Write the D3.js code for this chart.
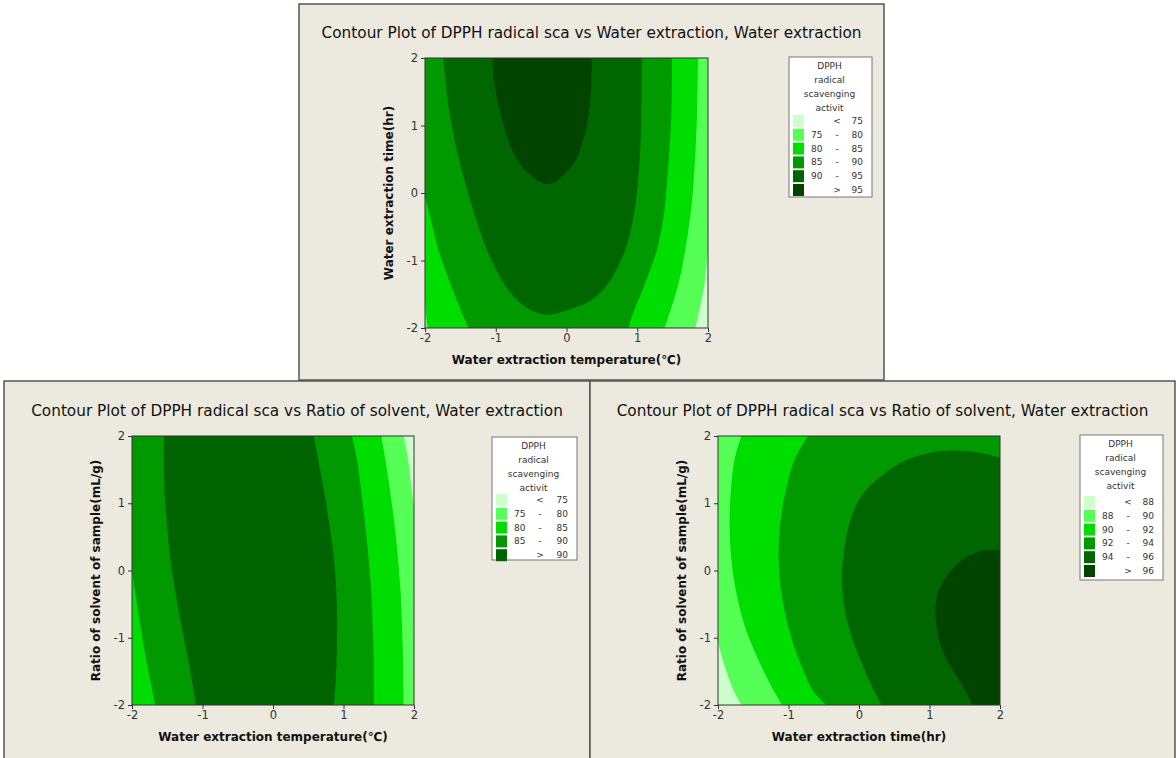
<!DOCTYPE html>
<html>
<head>
<meta charset="utf-8">
<script src="https://cdn.jsdelivr.net/npm/d3@7"></script>
<style>
    body { margin: 0; background: #fff; }
    svg { display: block; font-family: "DejaVu Sans", Verdana, sans-serif; }
    .panel-bg { fill: #ece9df; stroke: #555; stroke-width: 1.5; }
    .title { font-size: 15.3px; fill: #111; }
    .axis-label { font-size: 12px; font-weight: bold; fill: #111; }
    .tick text { font-size: 11.5px; fill: #333; font-family: "DejaVu Sans", sans-serif; }
    .tick line { stroke: #333; }
    .plot-frame { fill: none; stroke: #333; stroke-width: 1; }
    .legend-box { fill: #fff; stroke: #777; stroke-width: 1; }
    .legend text { font-size: 9px; fill: #333; }
</style>
</head>
<body>
<svg id="chart" width="1176" height="758"></svg>
<script>
// ---- data ----
const tickValues = [-2, -1, 0, 1, 2];
const legendTitle = ["DPPH", "radical", "scavenging", "activit"];

const topBreaks = [75, 80, 85, 90, 95];
const leftBreaks = [75, 80, 85, 90];
const rightBreaks = [88, 90, 92, 94, 96];

const sixColors = ["#ccffcc", "#55ff55", "#00dd00", "#009900", "#006600", "#004400"];
const fiveColors = ["#ccffcc", "#55ff55", "#00dd00", "#009900", "#006400"];

// top: temperature vs time, contour lines as [x, y]
const top75 = [[2, -0.84], [1.953, -1.333], [1.858, -1.827], [1.821, -2]];
const top80L = [[-2, -1.6], [-1.985, -1.8], [-1.96, -2]];
const top80R = [[1.387, -2], [1.443, -1.827], [1.585, -1.333], [1.679, -0.839], [1.75, -0.346], [1.797, 0.148], [1.844, 1.136], [1.859, 2]];
const top85L = [[-2, -0.05], [-1.929, -0.346], [-1.811, -0.839], [-1.646, -1.333], [-1.458, -1.827], [-1.387, -2]];
const top85R = [[0.877, -2], [0.925, -1.827], [1.113, -1.333], [1.278, -0.839], [1.373, -0.346], [1.42, 0.148], [1.481, 1.136], [1.491, 2]];
const top90 = [[-1.741, 2], [-1.708, 1.63], [-1.646, 1.136], [-1.552, 0.642], [-1.434, 0.148], [-1.292, -0.346], [-1.127, -0.839], [-0.891, -1.333], [-0.703, -1.58], [-0.514, -1.728], [-0.278, -1.802], [0.028, -1.728], [0.359, -1.58], [0.594, -1.333], [0.83, -0.839], [0.948, -0.346], [1.009, 0.148], [1.042, 0.642], [1.057, 1.136], [1.066, 2]];
const top95 = [[-1.047, 2], [-1.019, 1.63], [-0.925, 1.136], [-0.774, 0.642], [-0.632, 0.395], [-0.5, 0.26], [-0.38, 0.165], [-0.27, 0.13], [-0.16, 0.165], [-0.05, 0.26], [0.075, 0.395], [0.193, 0.642], [0.311, 1.136], [0.349, 1.63], [0.358, 2]];

// bottom left: temperature vs ratio
const left75 = [[1.853, 2], [1.915, 1.653], [1.972, 1.158], [2, 0.96]];
const left80 = [[1.853, -2], [1.844, -1.317], [1.83, -0.822], [1.811, -0.327], [1.773, 0.169], [1.726, 0.664], [1.664, 1.158], [1.593, 1.653], [1.537, 2]];
const left85L = [[-2, 0.02], [-1.953, -0.327], [-1.882, -0.822], [-1.801, -1.317], [-1.669, -2]];
const left85R = [[1.433, -2], [1.428, -1.317], [1.414, -0.822], [1.395, -0.327], [1.357, 0.169], [1.31, 0.664], [1.253, 1.158], [1.191, 1.653], [1.12, 2]];
const left90L = [[-1.551, 2], [-1.537, 1.158], [-1.504, 0.664], [-1.456, 0.169], [-1.385, -0.327], [-1.3, -0.822], [-1.206, -1.317], [-1.092, -2]];
const left90R = [[0.865, -2], [0.894, -1.564], [0.908, -1.069], [0.908, -0.574], [0.884, -0.079], [0.837, 0.416], [0.766, 0.911], [0.686, 1.406], [0.577, 2]];

// bottom right: time vs ratio
const right88 = [[-2, -1.069], [-1.905, -1.416], [-1.787, -1.762], [-1.669, -2]];
const right90 = [[-1.669, 2], [-1.764, 1.653], [-1.82, 1.158], [-1.835, 0.664], [-1.811, 0.169], [-1.74, -0.327], [-1.622, -0.822], [-1.433, -1.317], [-1.196, -1.812], [-1.092, -2]];
const right92 = [[-0.723, 2], [-0.913, 1.653], [-1.045, 1.158], [-1.121, 0.664], [-1.14, 0.169], [-1.102, -0.327], [-1.007, -0.822], [-0.856, -1.317], [-0.638, -1.812], [-0.463, -2]];
const right94 = [[2, 1.678], [1.641, 1.762], [1.168, 1.777], [0.695, 1.653], [0.317, 1.406], [0.033, 1.109], [-0.132, 0.713], [-0.227, 0.168], [-0.241, -0.178], [-0.203, -0.574], [-0.109, -0.97], [0.033, -1.366], [0.198, -1.762], [0.317, -2]];
const right96 = [[2, 0.307], [1.7, 0.28], [1.45, 0.15], [1.25, -0.08], [1.12, -0.327], [1.083, -0.574], [1.097, -0.822], [1.144, -1.069], [1.239, -1.317], [1.38, -1.564], [1.522, -1.812], [1.603, -2]];

// filled areas "above level i": list of curve pieces, single points are plot corners
const topRegions = [
    [top75, [[-2, -2]], [[-2, 2]], [[2, 2]]],
    [top80L, top80R, [[-2, 2]]],
    [top85L, top85R, [[-2, 2]]],
    [top90],
    [top95]
];
const leftRegions = [
    [[[-2, 2]], left75, [[2, -2]], [[-2, -2]]],
    [[[-2, -2]], left80, [[-2, 2]]],
    [left85L, left85R, [[-2, 2]]],
    [left90L, left90R]
];
const rightRegions = [
    [right88, [[2, -2]], [[2, 2]], [[-2, 2]]],
    [right90, [[2, -2]], [[2, 2]]],
    [right92, [[2, -2]], [[2, 2]]],
    [right94, [[2, -2]]],
    [right96, [[2, -2]]]
];

class ContourPanel {
    constructor(svg, cfg) {
        this.svg = svg;
        this.cfg = cfg;
        this.g = svg.append("g").attr("class", "panel");

        let [x0, y0, x1, y1] = cfg.plot;
        this.x = d3.scaleLinear().domain([-2, 2]).range([x0, x1]);
        this.y = d3.scaleLinear().domain([-2, 2]).range([y1, y0]);

        this.drawFrame();
        this.drawPlot();
        this.drawAxis();
        this.drawLegend();
    }

    drawFrame() {
        let b = this.cfg.box;
        this.g.append("rect")
            .attr("class", "panel-bg")
            .attr("x", b[0]).attr("y", b[1])
            .attr("width", b[2] - b[0]).attr("height", b[3] - b[1]);
        this.g.append("text")
            .attr("class", "title")
            .attr("x", (b[0] + b[2]) / 2)
            .attr("y", this.cfg.titleY)
            .attr("text-anchor", "middle")
            .text(this.cfg.title);
    }

    regionPath(pieces) {
        let x = this.x, y = this.y;
        let curve = d3.line().x(d => x(d[0])).y(d => y(d[1])).curve(d3.curveCatmullRom.alpha(0.5));
        let path = "";
        pieces.forEach((p, i) => {
            let s = p.length > 1 ? curve(p) : `M${x(p[0][0])},${y(p[0][1])}`;
            if (i > 0) s = "L" + s.slice(1);
            path += s;
        });
        return path + "Z";
    }

    drawPlot() {
        let [x0, y0, x1, y1] = this.cfg.plot;
        let clipId = "clip-" + this.cfg.id;
        this.g.append("clipPath").attr("id", clipId)
            .append("rect")
            .attr("x", x0).attr("y", y0)
            .attr("width", x1 - x0).attr("height", y1 - y0);

        let plot = this.g.append("g").attr("clip-path", `url(#${clipId})`);
        plot.append("rect")
            .attr("x", x0).attr("y", y0)
            .attr("width", x1 - x0).attr("height", y1 - y0)
            .attr("fill", this.cfg.colors[0]);

        plot.selectAll(".band").data(this.cfg.regions)
            .join("path")
            .attr("class", "band")
            .attr("d", d => this.regionPath(d))
            .attr("fill", (d, i) => this.cfg.colors[i + 1]);

        this.g.append("rect")
            .attr("class", "plot-frame")
            .attr("x", x0).attr("y", y0)
            .attr("width", x1 - x0).attr("height", y1 - y0);
    }

    drawAxis() {
        let [x0, y0, x1, y1] = this.cfg.plot;
        let xAxis = d3.axisBottom(this.x).tickValues(tickValues).tickSize(4).tickSizeOuter(0).tickPadding(2).tickFormat(d => String(d));
        let yAxis = d3.axisLeft(this.y).tickValues(tickValues).tickSize(4).tickSizeOuter(0).tickPadding(3).tickFormat(d => String(d));

        this.g.append("g")
            .attr("transform", `translate(0,${y1})`)
            .call(xAxis)
            .call(g => g.select(".domain").remove());
        this.g.append("g")
            .attr("transform", `translate(${x0},0)`)
            .call(yAxis)
            .call(g => g.select(".domain").remove());

        this.g.append("text")
            .attr("class", "axis-label")
            .attr("x", (x0 + x1) / 2)
            .attr("y", y1 + 36)
            .attr("text-anchor", "middle")
            .text(this.cfg.xLabel);
        this.g.append("text")
            .attr("class", "axis-label")
            .attr("transform", `translate(${x0 - 32},${(y0 + y1) / 2}) rotate(-90)`)
            .attr("text-anchor", "middle")
            .text(this.cfg.yLabel);
    }

    drawLegend() {
        let [lx, ly, lw, lh] = this.cfg.legend;
        let breaks = this.cfg.breaks;
        let legend = this.g.append("g").attr("class", "legend")
            .attr("transform", `translate(${lx},${ly})`);
        legend.append("rect").attr("class", "legend-box")
            .attr("width", lw).attr("height", lh);

        legend.selectAll(".legend-head").data(legendTitle)
            .join("text")
            .attr("class", "legend-head")
            .attr("x", lw / 2 - 1)
            .attr("y", (d, i) => 12 + i * 14)
            .attr("text-anchor", "middle")
            .text(d => d);

        let rows = this.cfg.colors.map((c, i) => ({
            color: c,
            lo: i === 0 ? null : breaks[i - 1],
            hi: i === breaks.length ? null : breaks[i]
        }));
        let rowG = legend.selectAll(".legend-row").data(rows)
            .join("g")
            .attr("class", "legend-row")
            .attr("transform", (d, i) => `translate(0,${this.cfg.legendRow0 + i * 13.8})`);
        rowG.append("rect")
            .attr("x", 4).attr("y", -6)
            .attr("width", 11).attr("height", 12)
            .attr("fill", d => d.color);
        rowG.append("text")
            .attr("x", 22).attr("y", 3)
            .text(d => d.lo !== null && d.hi !== null ? d.lo : "");
        rowG.append("text")
            .attr("x", 48).attr("y", 3)
            .attr("text-anchor", "middle")
            .text(d => d.lo === null ? "<" : (d.hi === null ? ">" : "-"));
        rowG.append("text")
            .attr("x", lw - 9).attr("y", 3)
            .attr("text-anchor", "end")
            .text(d => d.hi === null ? d.lo : d.hi);
    }
}

let svg = d3.select("#chart");

new ContourPanel(svg, {
    id: "top",
    box: [299, 4, 884, 380],
    plot: [425, 58, 708, 328],
    titleY: 38,
    title: "Contour Plot of DPPH radical sca vs Water extraction, Water extraction",
    xLabel: "Water extraction temperature(\u2103)",
    yLabel: "Water extraction time(hr)",
    legend: [789, 57, 83, 140],
    legendRow0: 64,
    breaks: topBreaks,
    colors: sixColors,
    regions: topRegions
});

new ContourPanel(svg, {
    id: "left",
    box: [4, 381, 590, 760],
    plot: [132, 436, 414, 705],
    titleY: 416,
    title: "Contour Plot of DPPH radical sca vs Ratio of solvent, Water extraction",
    xLabel: "Water extraction temperature(\u2103)",
    yLabel: "Ratio of solvent of sample(mL/g)",
    legend: [492, 437, 85, 123],
    legendRow0: 63,
    breaks: leftBreaks,
    colors: fiveColors,
    regions: leftRegions
});

new ContourPanel(svg, {
    id: "right",
    box: [590, 381, 1175, 760],
    plot: [718, 436, 1000, 705],
    titleY: 416,
    title: "Contour Plot of DPPH radical sca vs Ratio of solvent, Water extraction",
    xLabel: "Water extraction time(hr)",
    yLabel: "Ratio of solvent of sample(mL/g)",
    legend: [1080, 435, 83, 145],
    legendRow0: 67,
    breaks: rightBreaks,
    colors: sixColors,
    regions: rightRegions
});
</script>
</body>
</html>
